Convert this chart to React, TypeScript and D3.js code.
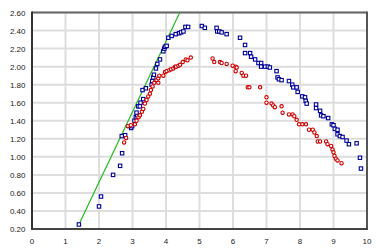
import React from "react";
import * as d3 from "d3";

const xTicks = [0, 1, 2, 3, 4, 5, 6, 7, 8, 9, 10];
const yTicks = [0.2, 0.4, 0.6, 0.8, 1.0, 1.2, 1.4, 1.6, 1.8, 2.0, 2.2, 2.4, 2.6];

const blueX = [1.40, 2.00, 2.06, 2.42, 2.63, 2.69, 2.68, 2.78, 2.96, 2.99, 3.06, 3.10, 3.14, 3.12, 3.17, 3.22, 3.24, 3.32, 3.30, 3.40, 3.57, 3.59, 3.62, 3.64, 3.70, 3.74, 3.82, 3.92, 3.95, 3.97, 4.02, 4.07, 4.17, 4.29, 4.39, 4.45, 4.52, 4.58, 4.66,
  5.07, 5.16, 5.51, 5.53, 5.59, 5.66, 5.81, 6.21, 6.36, 6.36, 6.51, 6.54, 6.66, 6.76, 6.84, 6.84, 6.96, 7.04, 7.10, 7.30, 7.33, 7.37, 7.45, 7.67, 7.77, 7.80, 7.90, 7.93, 8.07, 8.15, 8.17, 8.20, 8.48, 8.48, 8.60, 8.63, 8.70, 8.84, 8.95, 9.00, 9.04, 9.12, 9.12, 9.19, 9.27, 9.39, 9.46, 9.69, 9.79, 9.82];
const blueY = [0.25, 0.45, 0.56, 0.80, 0.90, 1.04, 1.23, 1.24, 1.32, 1.34, 1.40, 1.44, 1.46, 1.49, 1.56, 1.56, 1.60, 1.64, 1.74, 1.76, 1.80, 1.84, 1.88, 1.91, 1.98, 2.03, 2.08, 2.17, 2.20, 2.22, 2.23, 2.32, 2.34, 2.36, 2.37, 2.38, 2.39, 2.44, 2.44,
  2.45, 2.43, 2.43, 2.39, 2.39, 2.38, 2.36, 2.32, 2.24, 2.15, 2.15, 2.11, 2.08, 2.04, 2.04, 2.00, 2.00, 2.00, 1.99, 1.95, 1.88, 1.86, 1.85, 1.84, 1.80, 1.77, 1.77, 1.72, 1.67, 1.66, 1.62, 1.59, 1.58, 1.54, 1.51, 1.46, 1.45, 1.43, 1.36, 1.35, 1.31, 1.30, 1.25, 1.23, 1.22, 1.18, 1.14, 1.15, 0.99, 0.87];

const redX = [2.75, 2.81, 2.86, 2.95, 3.07, 3.12, 3.18, 3.22, 3.28, 3.32, 3.37, 3.42, 3.47, 3.52, 3.55, 3.60, 3.65, 3.72, 3.77, 3.77, 3.80, 3.92, 3.97, 4.02, 4.10, 4.15, 4.22, 4.27, 4.30, 4.37, 4.42, 4.50, 4.59, 4.64, 4.74,
  5.39, 5.44, 5.61, 5.66, 5.81, 5.99, 6.08, 6.11, 6.08, 6.26, 6.31, 6.39, 6.44, 6.49, 6.81, 7.00, 7.00, 7.15, 7.20, 7.25, 7.45, 7.48, 7.67, 7.78, 7.83, 7.90, 7.97, 8.07, 8.18, 8.27, 8.38, 8.43, 8.50, 8.53, 8.60, 8.78, 8.82, 8.93, 8.97, 9.00, 9.03, 9.07, 9.12, 9.24];
const redY = [1.16, 1.21, 1.34, 1.35, 1.36, 1.40, 1.44, 1.46, 1.50, 1.53, 1.59, 1.63, 1.67, 1.70, 1.74, 1.78, 1.82, 1.85, 1.87, 1.82, 1.90, 1.90, 1.94, 1.95, 1.96, 1.97, 1.98, 2.00, 2.00, 2.01, 2.02, 2.05, 2.08, 2.07, 2.10,
  2.09, 2.05, 2.05, 2.04, 2.03, 2.01, 2.00, 1.99, 1.95, 1.93, 1.90, 1.90, 1.77, 1.77, 1.77, 1.66, 1.60, 1.59, 1.57, 1.55, 1.56, 1.49, 1.47, 1.47, 1.45, 1.41, 1.36, 1.36, 1.36, 1.30, 1.30, 1.27, 1.23, 1.17, 1.17, 1.17, 1.14, 1.12, 1.08, 1.05, 1.01, 0.98, 0.96, 0.93];

const lineX = [1.40, 4.45];
const lineY = [0.25, 2.63];

export default function App() {
  const W = 378, H = 252;
  const L = 32, R = 367, T = 12.5, B = 229;
  const x = d3.scaleLinear().domain([0, 10]).range([L, R]);
  const y = d3.scaleLinear().domain([0.2, 2.6]).range([B, T]);
  const linePath = d3.line<number>().x((d) => x(lineX[d])).y((d) => y(lineY[d]))([0, 1]) || "";
  const font = "'Liberation Sans', Arial, sans-serif";
  return (
    <svg width={W} height={H} style={{ position: "absolute", left: 0, top: 0, background: "#fff" }}>
      <defs>
        <clipPath id="plot">
          <rect x={L} y={T} width={R - L} height={B - T} />
        </clipPath>
      </defs>
      {xTicks.map((t) => (
        <line key={"gx" + t} x1={x(t)} x2={x(t)} y1={T} y2={B} stroke="#dddddd" strokeWidth={2} />
      ))}
      {yTicks.map((t) => (
        <line key={"gy" + t} x1={L} x2={R} y1={y(t)} y2={y(t)} stroke="#dddddd" strokeWidth={2} />
      ))}
      <line x1={L} x2={R} y1={T} y2={T} stroke="#666" strokeWidth={2} />
      <line x1={R} x2={R} y1={T - 1} y2={B} stroke="#555" strokeWidth={2} />
      <line x1={L} x2={R + 1} y1={B} y2={B} stroke="#444" strokeWidth={2} />
      <line x1={L} x2={L} y1={T - 1} y2={B + 1} stroke="#333" strokeWidth={2} />
      <g clipPath="url(#plot)">
        <path d={linePath} stroke="#22bb22" strokeWidth={1.2} fill="none" />
      </g>
      {blueX.map((v, i) => (
        <rect key={"b" + i} x={x(v) - 1.7} y={y(blueY[i]) - 1.7} width={3.4} height={3.4} fill="#fff" stroke="#000099" strokeWidth={1.1} />
      ))}
      {redX.map((v, i) => (
        <circle key={"r" + i} cx={x(v)} cy={y(redY[i])} r={1.7} fill="#fff" stroke="#cc0000" strokeWidth={1.1} />
      ))}
      {yTicks.map((t) => (
        <text key={"ly" + t} x={25.5} y={y(t) + 3} textAnchor="end" fontFamily={font} fontSize={8} fill="#222">
          {t.toFixed(2)}
        </text>
      ))}
      {xTicks.map((t) => (
        <text key={"lx" + t} x={x(t)} y={244} textAnchor="middle" fontFamily={font} fontSize={8} fill="#222">
          {t}
        </text>
      ))}
    </svg>
  );
}
